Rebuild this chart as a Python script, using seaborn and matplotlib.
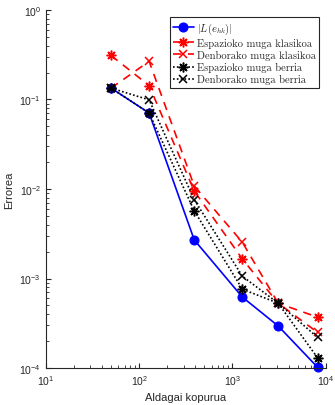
import numpy as np
import pandas as pd
import matplotlib
matplotlib.use('Agg')
import matplotlib.pyplot as plt
import seaborn as sns

# Data
aldagaiak = [50, 128, 390, 1280, 3100, 8200]
errore_L = [0.134, 0.0706, 0.0027, 6.2e-4, 2.95e-4, 1.02e-4]
esp_klasikoa = [0.31, 0.143, 0.0095, 1.65e-3, 5.3e-4, 3.7e-4]
den_klasikoa = [0.134, 0.267, 0.0108, 2.54e-3, 5.3e-4, 2.5e-4]
esp_berria = [0.134, 0.0706, 5.7e-3, 7.6e-4, 5.3e-4, 1.3e-4]
den_berria = [0.134, 0.099, 7.6e-3, 1.06e-3, 5.3e-4, 2.2e-4]

labels = [r'$|L(e_{hk})|$', 'Espazioko muga klasikoa', 'Denborako muga klasikoa',
          'Espazioko muga berria', 'Denborako muga berria']

sns.set_style('white')
plt.rcParams['font.family'] = ['Liberation Sans', 'DejaVu Sans']
plt.rcParams['mathtext.fontset'] = 'cm'

fig = plt.figure(figsize=(3.35, 4.06), dpi=100)
ax = fig.add_axes([0.137, 0.091, 0.835, 0.882])

red = '#ff0000'
series = [
    (errore_L, dict(color='#0000ff', linestyle='-', marker='o', markersize=6.5,
                    markeredgecolor='#0000ff', markerfacecolor='#0000ff')),
    (esp_klasikoa, dict(color=red, linestyle=(0, (5, 4)), marker=(8, 2, 0), markersize=7,
                        markeredgewidth=1.1, markeredgecolor=red)),
    (den_klasikoa, dict(color=red, linestyle=(0, (5, 4)), marker='x', markersize=6,
                        markeredgewidth=1.1, markeredgecolor=red)),
    (esp_berria, dict(color='black', linestyle=(0, (1, 1.3)), marker=(8, 2, 0), markersize=7,
                      markeredgewidth=1.1, markeredgecolor='black')),
    (den_berria, dict(color='black', linestyle=(0, (1, 1.3)), marker='x', markersize=6,
                      markeredgewidth=1.1, markeredgecolor='black')),
]

for (vals, style), lab in zip(series, labels):
    df = pd.DataFrame({'x': aldagaiak, 'y': vals})
    sns.lineplot(data=df, x='x', y='y', ax=ax, sort=False, label=lab,
                 linewidth=1.2, clip_on=False, **style)

ax.set_xscale('log')
ax.set_yscale('log')
ax.set_xlim(10, 1e4)
ax.set_ylim(1e-4, 1)

for s in ['top', 'right']:
    ax.spines[s].set_visible(False)
for s in ['left', 'bottom']:
    ax.spines[s].set_color('#262626')
    ax.spines[s].set_linewidth(0.8)

ax.tick_params(which='both', direction='in', labelsize=7.5, colors='#262626')
ax.tick_params(which='major', length=3.5)
ax.tick_params(which='minor', length=2)
ax.xaxis.set_ticks_position('bottom')
ax.yaxis.set_ticks_position('left')

ax.set_xlabel('Aldagai kopurua', fontsize=8, color='#262626')
ax.set_ylabel('Errorea', fontsize=8, color='#262626')

leg = ax.legend(loc='upper right', bbox_to_anchor=(0.985, 0.985),
                prop={'family': 'cmr10', 'size': 7.6},
                frameon=True, fancybox=False, framealpha=1, borderpad=0.3,
                labelspacing=0.2, handlelength=2.0, handletextpad=0.3,
                borderaxespad=0.2)
leg.get_frame().set_edgecolor('#262626')
leg.get_frame().set_linewidth(0.8)

plt.savefig('out.png', dpi=100)
plt.close()
